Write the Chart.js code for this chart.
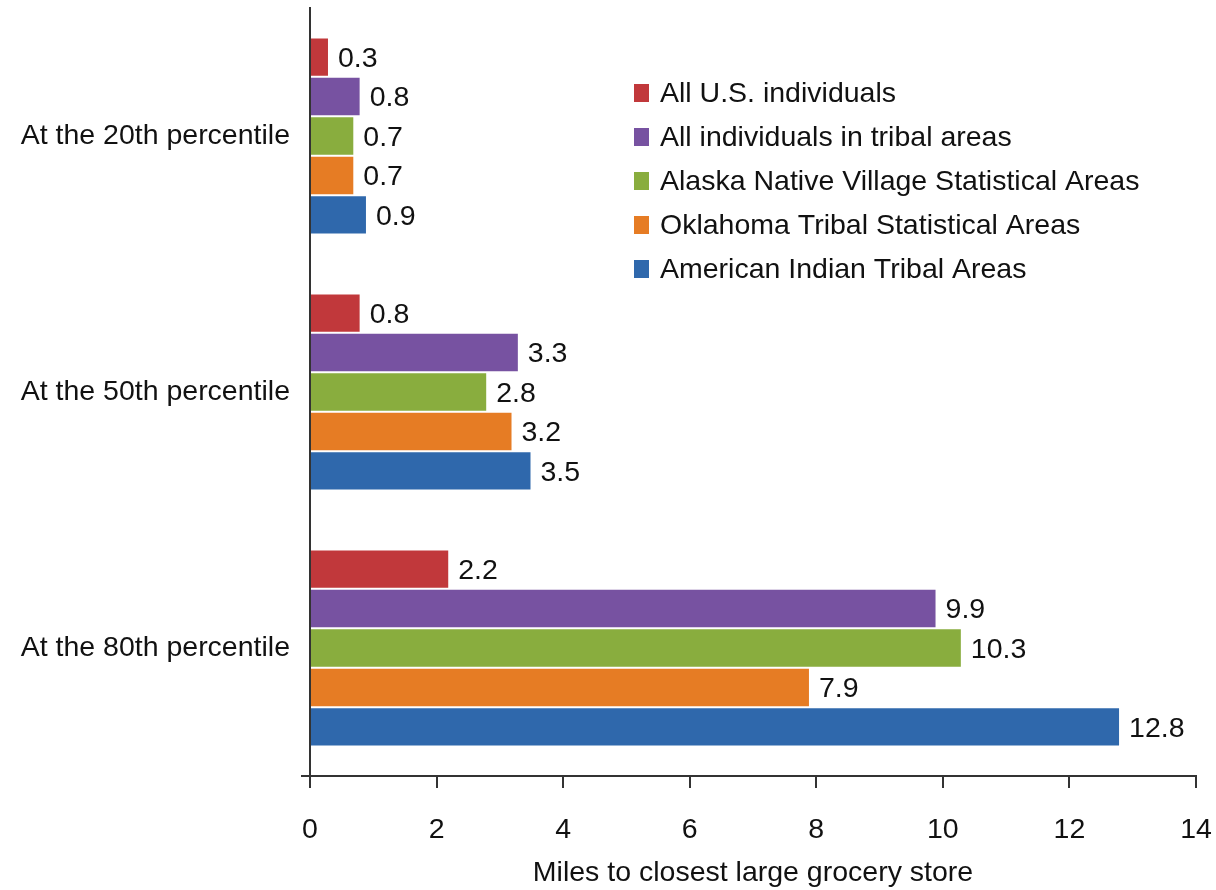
<!DOCTYPE html>
<html>
<head>
<meta charset="utf-8">
<script src="https://cdn.jsdelivr.net/npm/chart.js@4/dist/chart.umd.min.js"></script>
<style>
  html, body { margin: 0; padding: 0; background: #fff; }
  #wrap { width: 1216px; height: 890px; }
</style>
</head>
<body>
<div id="wrap"><canvas id="grafico" width="1216" height="890"></canvas></div>
<script>
const categorias = ['At the 20th percentile', 'At the 50th percentile', 'At the 80th percentile']
const series = ['All U.S. individuals', 'All individuals in tribal areas', 'Alaska Native Village Statistical Areas', 'Oklahoma Tribal Statistical Areas', 'American Indian Tribal Areas']
const todosUS = [0.3, 0.8, 2.2]
const todosTribais = [0.8, 3.3, 9.9]
const alaska = [0.7, 2.8, 10.3]
const oklahoma = [0.7, 3.2, 7.9]
const indigenas = [0.9, 3.5, 12.8]
const cores = ['#c1383b', '#7752a1', '#89ad3e', '#e67c24', '#2f68ac']
const fonte = '"Liberation Sans", Arial, sans-serif'
const tam = 28.5

const valores = [todosUS, todosTribais, alaska, oklahoma, indigenas]

// rotulos de valor no fim de cada barra
const rotulos = {
  id: 'rotulos',
  afterDatasetsDraw(chart) {
    const ctx = chart.ctx
    ctx.save()
    ctx.font = tam + 'px ' + fonte
    ctx.fillStyle = '#111'
    ctx.textBaseline = 'middle'
    ctx.textAlign = 'left'
    chart.data.datasets.forEach((ds, i) => {
      chart.getDatasetMeta(i).data.forEach((bar, j) => {
        ctx.fillText(ds.data[j].toFixed(1), bar.x + 9, bar.y + 2)
      })
    })
    ctx.restore()
  }
}

// legenda desenhada dentro da area do grafico
const legenda = {
  id: 'legenda',
  afterDraw(chart) {
    const ctx = chart.ctx
    ctx.save()
    ctx.font = tam + 'px ' + fonte
    ctx.textBaseline = 'middle'
    chart.data.datasets.forEach((ds, i) => {
      const y = 93 + i * 44
      ctx.fillStyle = ds.backgroundColor
      ctx.fillRect(634, y - 9, 15, 18)
      ctx.fillStyle = '#111'
      ctx.fillText(ds.label, 660, y + 1)
    })
    ctx.restore()
  }
}

// prolonga um pouco o eixo x para a esquerda do eixo y
const cantoEixos = {
  id: 'cantoEixos',
  afterDraw(chart) {
    const { ctx, chartArea } = chart
    ctx.save()
    ctx.strokeStyle = '#333'
    ctx.lineWidth = 2
    ctx.beginPath()
    ctx.moveTo(chartArea.left - 9, chartArea.bottom)
    ctx.lineTo(chartArea.left, chartArea.bottom)
    ctx.stroke()
    ctx.restore()
  }
}

new Chart(document.getElementById('grafico'), {
  type: 'bar',
  data: {
    labels: categorias,
    datasets: series.map((nome, i) => ({
      label: nome,
      data: valores[i],
      backgroundColor: cores[i],
      borderColor: '#ffffff',
      borderWidth: 1,
      categoryPercentage: 0.77,
      barPercentage: 1,
    })),
  },
  options: {
    indexAxis: 'y',
    responsive: false,
    animation: false,
    layout: { padding: { top: 8, right: 20, bottom: 0, left: 0 } },
    plugins: {
      legend: { display: false },
      tooltip: { enabled: false },
    },
    scales: {
      x: {
        min: 0,
        max: 14,
        ticks: { stepSize: 2, color: '#111', font: { family: fonte, size: tam }, padding: 25 },
        grid: { drawOnChartArea: false, tickLength: 12, color: '#333', lineWidth: 2 },
        border: { color: '#333', width: 2 },
        title: { display: true, text: 'Miles to closest large grocery store', color: '#111', font: { family: fonte, size: tam }, padding: { top: 8, bottom: 0 } },
        afterFit(scale) {
          scale.height = 114
          scale.paddingLeft = 0
          scale.paddingRight = 0
        },
      },
      y: {
        ticks: { color: '#111', font: { family: fonte, size: tam }, padding: 20 },
        grid: { display: false, drawTicks: false },
        border: { color: '#333', width: 2 },
        afterFit(scale) {
          scale.width = 310
          scale.paddingTop = 0
          scale.paddingBottom = 0
        },
      },
    },
  },
  plugins: [rotulos, legenda, cantoEixos],
})
</script>
</body>
</html>
